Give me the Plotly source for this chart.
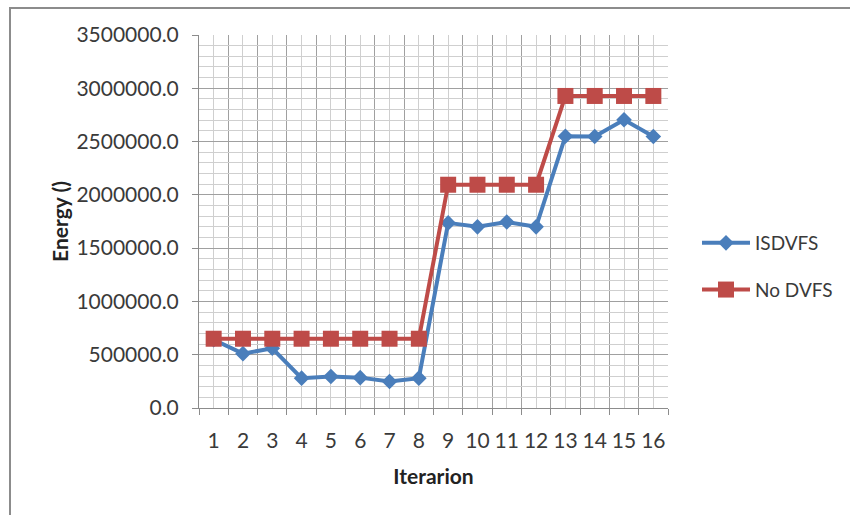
import plotly.graph_objects as go

# Iteration index and energy per iteration for each scheduling policy
iterations = list(range(1, 17))
isdvfs = [640000, 510000, 560000, 280000, 295000, 285000, 248000, 280000,
          1737000, 1700000, 1745000, 1700000, 2550000, 2548000, 2705000, 2548000]
no_dvfs = [650000, 650000, 650000, 650000, 650000, 650000, 650000, 650000,
           2095000, 2095000, 2095000, 2095000, 2928000, 2928000, 2928000, 2928000]

BLUE = "#4a7ebb"
RED = "#be4b48"
FONT = "Lato"
TEXT = "#3a3a3a"
FS = 21

fig = go.Figure()
fig.add_trace(go.Scatter(
    x=iterations, y=isdvfs, name="ISDVFS", mode="lines+markers",
    line=dict(color=BLUE, width=4),
    marker=dict(symbol="diamond", size=12, color=BLUE),
    legendgroup="a",
))
fig.add_trace(go.Scatter(
    x=iterations, y=no_dvfs, name="No DVFS", mode="lines+markers",
    line=dict(color=RED, width=4),
    marker=dict(symbol="square", size=16, color=RED),
    legendgroup="b",
))

L, R, T, B = 199, 668, 35, 408
W, H = 850, 515

def px_x(p):
    return (p - L) / (R - L)

def px_y(p):
    return (B - p) / (B - T)

# outer chart frame
fig.add_shape(type="rect", xref="paper", yref="paper",
              x0=px_x(10), x1=px_x(870), y0=px_y(530), y1=px_y(8),
              line=dict(color="#8c8c8c", width=2), layer="below")

fig.update_layout(
    width=W, height=H,
    margin=dict(l=L, r=W - R, t=T, b=H - B, autoexpand=False),
    paper_bgcolor="white", plot_bgcolor="white",
    font=dict(family=FONT, size=FS, color=TEXT),
    legend=dict(xref="container", yref="container",
                x=697 / W, y=1 - 224 / H, xanchor="left", yanchor="top",
                tracegroupgap=19, itemwidth=48, font=dict(size=19, color=TEXT),
                bgcolor="rgba(0,0,0,0)"),
    xaxis=dict(
        range=[0.5, 16.5], tickvals=iterations, ticktext=[str(i) for i in iterations],
        ticks="", ticklabelstandoff=14,
        showgrid=True, gridcolor="#cfcfcf", gridwidth=1,
        minor=dict(tickvals=[i + 0.5 for i in range(0, 17)], ticks="outside",
                   ticklen=6, tickcolor="#8c8c8c", showgrid=True,
                   gridcolor="#a0a0a0", gridwidth=1),
        showline=True, linecolor="#8c8c8c", linewidth=1, zeroline=False,
        title=dict(text="<b>Iterarion</b>", font=dict(size=FS, color="#222"), standoff=18),
        fixedrange=True,
    ),
    yaxis=dict(
        range=[0, 3500000], dtick=500000, tickformat=".1f",
        ticks="outside", ticklen=6, tickcolor="#8c8c8c", ticklabelstandoff=9,
        showgrid=True, gridcolor="#a0a0a0", gridwidth=1,
        minor=dict(dtick=100000, showgrid=True, gridcolor="#cfcfcf", gridwidth=1),
        showline=True, linecolor="#8c8c8c", linewidth=1, zeroline=False,
        title=dict(text="<b>Energy ()</b>", font=dict(size=FS, color="#222"), standoff=2),
        fixedrange=True,
    ),
)

fig.write_html("out.html")
